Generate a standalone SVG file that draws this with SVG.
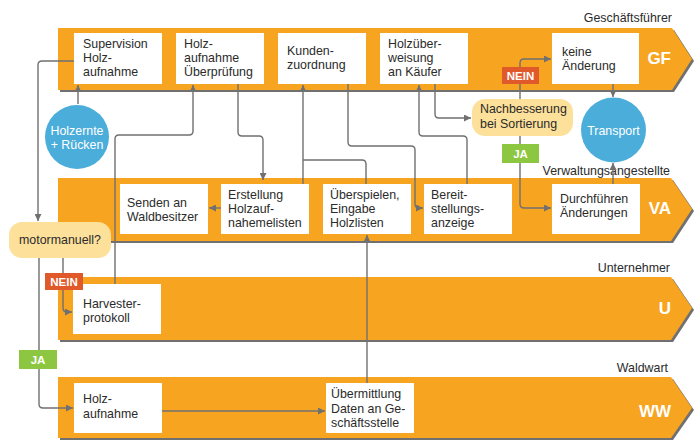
<svg xmlns="http://www.w3.org/2000/svg" width="700" height="441" viewBox="0 0 700 441">
<defs>
<marker id="ah" markerUnits="userSpaceOnUse" markerWidth="8" markerHeight="7" refX="7" refY="3.5" orient="auto">
<path d="M0,0 L7,3.5 L0,7 z" fill="#707070"/>
</marker>
<style>
.band{fill:#F7A520}
.shadow{fill:#707070}
.box{fill:#ffffff}
.t{font-family:"Liberation Sans",Arial,sans-serif;font-size:12.4px;fill:#2b2b2b}
.lane{font-family:"Liberation Sans",Arial,sans-serif;font-size:12.4px;fill:#2b2b2b;text-anchor:end}
.ab{font-family:"Liberation Sans",Arial,sans-serif;font-size:17px;font-weight:bold;fill:#ffffff;text-anchor:end}
.circ{fill:#4BADDA}
.ct{font-family:"Liberation Sans",Arial,sans-serif;font-size:12.4px;fill:#ffffff;text-anchor:middle}
.dec{fill:#FDE09A}
.tag{font-family:"Liberation Sans",Arial,sans-serif;font-size:11.5px;font-weight:bold;fill:#ffffff;text-anchor:middle}
.conn path{fill:none;stroke:#707070;stroke-width:1.4}
</style>
</defs>

<g id="lanes">
<polygon class="shadow" points="60,30 674,30 694,61 674,92 60,92"/>
<polygon class="band" points="58,28 672,28 692,59 672,90 58,90"/>
<polygon class="shadow" points="60,180 673,180 694,211 673,243 60,243"/>
<polygon class="band" points="58,178 671,178 692,209 671,241 58,241"/>
<polygon class="shadow" points="60,279 673,279 694,310 673,342 60,342"/>
<polygon class="band" points="58,277 671,277 692,308 671,340 58,340"/>
<polygon class="shadow" points="60,379 673,379 694,410 673,440 60,440"/>
<polygon class="band" points="58,377 671,377 692,408 671,438 58,438"/>
<text class="lane" x="672" y="22">Geschäftsführer</text>
<text class="lane" x="670" y="175">Verwaltungsangestellte</text>
<text class="lane" x="670" y="272">Unternehmer</text>
<text class="lane" x="668" y="372">Waldwart</text>
<text class="ab" x="671" y="64">GF</text>
<text class="ab" x="671" y="214">VA</text>
<text class="ab" x="671" y="314">U</text>
<text class="ab" x="671" y="417">WW</text>
</g>

<g id="connectors" class="conn">
<path d="M74,61 H42 Q38,61 38,65 V221" marker-end="url(#ah)"/>
<path d="M78,104 V85" marker-end="url(#ah)"/>
<path d="M115,284 V139 Q115,135 119,135 H189 Q193,135 193,131 V85" marker-end="url(#ah)"/>
<path d="M238,84 V132 Q238,136 242,136 H259 Q263,136 263,140 V180" marker-end="url(#ah)"/>
<path d="M221,208 H209" marker-end="url(#ah)"/>
<path d="M303,184 V85" marker-end="url(#ah)"/>
<path d="M366,184 V164 Q366,160 362,160 H303"/>
<path d="M348,84 V142 Q348,146 352,146 H411 Q415,146 415,150 V204 Q415,208 419,208 H423" marker-end="url(#ah)"/>
<path d="M467,184 V140 Q467,136 463,136 H423 Q419,136 419,132 V85" marker-end="url(#ah)"/>
<path d="M435,84 V114 Q435,118 439,118 H471" marker-end="url(#ah)"/>
<path d="M520,99 V63 Q520,59 524,59 H551" marker-end="url(#ah)"/>
<path d="M520,136 V204 Q520,208 524,208 H551" marker-end="url(#ah)"/>
<path d="M613,84 V97" marker-end="url(#ah)"/>
<path d="M613,184 V163" marker-end="url(#ah)"/>
<path d="M39,258 V404 Q39,408 43,408 H73" marker-end="url(#ah)"/>
<path d="M63,258 V308 Q63,312 67,312 H72" marker-end="url(#ah)"/>
<path d="M162,411 H325" marker-end="url(#ah)"/>
<path d="M367,383 V235" marker-end="url(#ah)"/>
</g>

<g id="n-supervision"><rect class="box" x="74" y="33" width="88" height="51"/><text class="t" x="83" y="48">Supervision</text><text class="t" x="83" y="62">Holz-</text><text class="t" x="83" y="76">aufnahme</text></g>
<g id="n-ueberpruefung"><rect class="box" x="176" y="33" width="88" height="51"/><text class="t" x="184" y="48">Holz-</text><text class="t" x="184" y="62">aufnahme</text><text class="t" x="184" y="76">Überprüfung</text></g>
<g id="n-kunden"><rect class="box" x="278" y="33" width="88" height="51"/><text class="t" x="287" y="55">Kunden-</text><text class="t" x="287" y="69">zuordnung</text></g>
<g id="n-holzueber"><rect class="box" x="380" y="33" width="88" height="51"/><text class="t" x="388" y="48">Holzüber-</text><text class="t" x="388" y="62">weisung</text><text class="t" x="388" y="76">an Käufer</text></g>
<g id="n-keine"><rect class="box" x="552" y="33" width="87" height="51"/><text class="t" x="562" y="56">keine</text><text class="t" x="562" y="70">Änderung</text></g>

<g id="n-holzernte"><circle class="circ" cx="77" cy="137" r="32"/><text class="ct" x="77" y="135">Holzernte</text><text class="ct" x="77" y="149">+ Rücken</text></g>
<g id="n-transport"><circle class="circ" cx="613.5" cy="130" r="32.5"/><text class="ct" x="613.5" y="135">Transport</text></g>
<g id="n-nachbesserung"><rect class="dec" x="472" y="99" width="101" height="37" rx="13"/><text class="t" x="480" y="113">Nachbesserung</text><text class="t" x="480" y="128">bei Sortierung</text></g>

<g id="n-senden"><rect class="box" x="120" y="184" width="88" height="50"/><text class="t" x="127" y="207">Senden an</text><text class="t" x="127" y="221">Waldbesitzer</text></g>
<g id="n-erstellung"><rect class="box" x="221" y="184" width="88" height="50"/><text class="t" x="228" y="199">Erstellung</text><text class="t" x="228" y="213">Holzauf-</text><text class="t" x="228" y="227">nahemelisten</text></g>
<g id="n-ueberspielen"><rect class="box" x="323" y="184" width="88" height="50"/><text class="t" x="330" y="199">Überspielen,</text><text class="t" x="330" y="213">Eingabe</text><text class="t" x="330" y="227">Holzlisten</text></g>
<g id="n-bereit"><rect class="box" x="424" y="184" width="88" height="50"/><text class="t" x="431" y="199">Bereit-</text><text class="t" x="431" y="213">stellungs-</text><text class="t" x="431" y="227">anzeige</text></g>
<g id="n-durchfuehren"><rect class="box" x="552" y="184" width="88" height="50"/><text class="t" x="560" y="203">Durchführen</text><text class="t" x="560" y="217">Änderungen</text></g>

<g id="n-motormanuell"><rect class="dec" x="9" y="222" width="102" height="36" rx="13"/><text class="t" x="60" y="244" text-anchor="middle">motormanuell?</text></g>

<g id="n-harvester"><rect class="box" x="73" y="284" width="88" height="50"/><text class="t" x="83" y="308">Harvester-</text><text class="t" x="83" y="322">protokoll</text></g>
<g id="n-holzaufnahme"><rect class="box" x="74" y="383" width="88" height="50"/><text class="t" x="83" y="403">Holz-</text><text class="t" x="83" y="418">aufnahme</text></g>
<g id="n-uebermittlung"><rect class="box" x="326" y="383" width="88" height="50"/><text class="t" x="331" y="398">Übermittlung</text><text class="t" x="331" y="413">Daten an Ge-</text><text class="t" x="331" y="427">schäftsstelle</text></g>

<g id="tags">
<rect x="502" y="67" width="37" height="17" fill="#E0592A"/><text class="tag" x="520.5" y="80">NEIN</text>
<rect x="502" y="144" width="37" height="19" fill="#8DC641"/><text class="tag" x="520.5" y="158">JA</text>
<rect x="45" y="273" width="38" height="17" fill="#E0592A"/><text class="tag" x="64" y="286">NEIN</text>
<rect x="19" y="350" width="38" height="19" fill="#8DC641"/><text class="tag" x="38" y="364">JA</text>
</g>
</svg>
